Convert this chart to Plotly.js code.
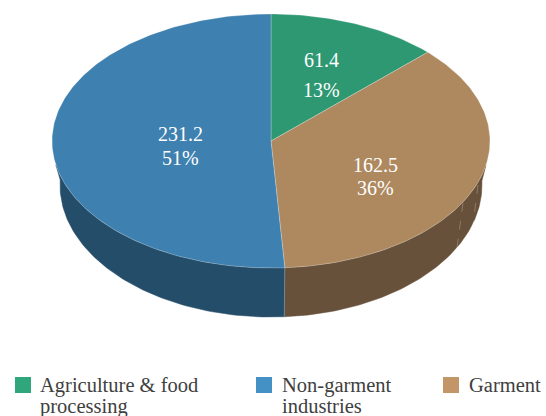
<!DOCTYPE html>
<html><head><meta charset="utf-8">
<script src="https://cdn.plot.ly/plotly-3.0.1.min.js"></script>
<style>html,body{margin:0;padding:0;background:#fff;overflow:hidden}#c{width:546px;height:416px}</style>
</head><body><div id="c"></div>
<script>
// Data
const categories = ["Agriculture & food", "Non-garment", "Garment"];
const categoryLine2 = ["processing", "industries", ""];
const values = [61.4, 231.2, 162.5];
const drawOrder = [0, 2, 1];            // clockwise from 12 o'clock
// Styles
const topColors = ["#2e9873", "#3e81b0", "#ae895f"];
const wallColors = ["#1f6a50", "#244d6a", "#67513a"];
const legendColors = ["#2fa67b", "#4391c5", "#c29667"];
const legendSwatchX = [23, 264, 451];
const legendTextX = [41, 283, 470];
const legendY = [385, 406];
const labelPos = [[322, 60, 90], [181, 134, 158], [376, 165, 188]];
// Geometry (axes run in page units)
const top_ = {cx: 271, cy: 141, rx: 219, ry: 127};
const bot = {cx: 271, cy: 185, rx: 211, ry: 132};
const warp = t => t - 0.141 * Math.sin(t) + 0.0557 * Math.sin(2 * t);
const pt = (e, t) => [e.cx + e.rx * Math.sin(warp(t)), e.cy - e.ry * Math.cos(warp(t))];
const arc = (e, a, b) => { const o = [], n = Math.max(2, Math.ceil(Math.abs(b - a) * 60));
  for (let i = 0; i <= n; i++) o.push(pt(e, a + (b - a) * i / n)); return o; };
const deg = Math.PI / 180;
const wallTop = [110.7 * deg, 249.5 * deg], wallBot = [97 * deg, 263.5 * deg];

const total = values.reduce((a, b) => a + b, 0);
const traces = [], tops = [];
let start = 0;
drawOrder.forEach(i => {
  const end = start + values[i] / total * 2 * Math.PI;
  const aT = Math.max(start, wallTop[0]), bT = Math.min(end, wallTop[1]);
  const aB = Math.max(start, wallBot[0]), bB = Math.min(end, wallBot[1]);
  if (bT > aT) {
    const w = arc(top_, aT, bT).concat(arc(bot, aB, bB).reverse());
    w.push(w[0]);
    traces.push({type: "scatter", mode: "lines", x: w.map(p => p[0]), y: w.map(p => p[1]), fill: "toself",
      fillcolor: wallColors[i], line: {color: wallColors[i], width: 0.5}, showlegend: false, hoverinfo: "skip"});
  }
  const s = [[top_.cx, top_.cy]].concat(arc(top_, start, end), [[top_.cx, top_.cy]]);
  tops.push({type: "scatter", mode: "lines", x: s.map(p => p[0]), y: s.map(p => p[1]), fill: "toself",
    fillcolor: topColors[i], line: {color: "rgba(255,255,255,0.35)", width: 0.7}, showlegend: false,
    name: categories[i], hoverinfo: "skip"});
  start = end;
});
// front seam between the two walls
const seamT = (values[0] + values[2]) / total * 2 * Math.PI;
const seam = [pt(top_, seamT), pt(bot, seamT)];
traces.push({type: "scatter", mode: "lines", x: seam.map(p => p[0]), y: seam.map(p => p[1]),
  line: {color: "rgba(255,255,255,0.4)", width: 0.7}, showlegend: false, hoverinfo: "skip"});
// faint seams on the brown wall
[[[463, 203], [457, 248]], [[478, 185], [473, 225]]].forEach(l => traces.push({type: "scatter", mode: "lines",
  x: l.map(p => p[0]), y: l.map(p => p[1]), line: {color: "rgba(255,255,255,0.3)", width: 0.8, dash: "dash"},
  showlegend: false, hoverinfo: "skip"}));

const swatches = {type: "scatter", mode: "markers", x: legendSwatchX, y: legendSwatchX.map(() => legendY[0]),
  marker: {symbol: "square", size: 16, color: legendColors, line: {width: 0}}, showlegend: false, hoverinfo: "skip"};

const annotations = [];
values.forEach((v, i) => {
  const pct = Math.round(v / total * 100) + "%", p = labelPos[i];
  [[v.toFixed(1), p[1]], [pct, p[2]]].forEach(([t, y]) => annotations.push({x: p[0], y, text: t, showarrow: false,
    xref: "x", yref: "y", xshift: -1, font: {family: "Liberation Serif", size: 20, color: "#ffffff"}}));
});
categories.forEach((c, i) => {
  [c, categoryLine2[i]].forEach((t, j) => { if (t) annotations.push({x: legendTextX[i], y: legendY[j], text: t,
    showarrow: false, xref: "x", yref: "y", xanchor: "left", xshift: -3, align: "left",
    font: {family: "Liberation Serif", size: 20.5, color: "#404040"}}); });
});

const layout = {
  width: 546, height: 416, margin: {l: 0, r: 0, t: 0, b: 0}, paper_bgcolor: "#fff", plot_bgcolor: "#fff",
  xaxis: {range: [0, 546], visible: false, fixedrange: true},
  yaxis: {range: [416, 0], visible: false, fixedrange: true},
  showlegend: false, annotations
};
Plotly.newPlot("c", traces.concat(tops, [swatches]), layout, {displayModeBar: false, staticPlot: true});
</script></body></html>
